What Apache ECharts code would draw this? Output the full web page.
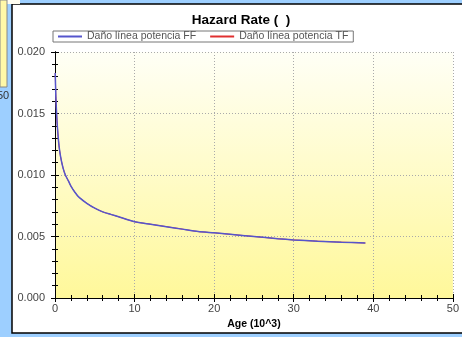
<!DOCTYPE html>
<html><head><meta charset="utf-8">
<script src="https://cdn.jsdelivr.net/npm/echarts@6/dist/echarts.min.js"></script>
<style>html,body{margin:0;padding:0;background:#9dcfff;}#c{width:462px;height:337px;}</style>
</head><body><div id="c"></div>
<script>
const titleText = 'Hazard Rate (  )';
const seriesNames = ['Daño línea potencia FF', 'Daño línea potencia TF'];
const ageX = [0.03, 0.1, 0.2, 0.3, 0.5, 0.7, 1, 1.3, 1.7, 2, 2.5, 3, 4, 5, 6, 7, 8, 10, 12, 14, 16, 18, 20, 22, 25, 28, 30, 33, 36, 39];
const hazardFF = [0.0183, 0.0165, 0.0150, 0.0139, 0.0124, 0.0115, 0.0106, 0.0100, 0.0095, 0.0091, 0.0086, 0.0082, 0.0077, 0.0073, 0.0070, 0.0068, 0.0066, 0.0062, 0.0060, 0.0058, 0.0056, 0.0054, 0.0053, 0.00518, 0.0050, 0.00482, 0.00472, 0.00462, 0.00454, 0.00447];
const hazardTF = [0.0183, 0.0165, 0.0150, 0.0139, 0.0124, 0.0115, 0.0106, 0.0100, 0.0095, 0.0091, 0.0086, 0.0082, 0.0077, 0.0073, 0.0070, 0.0068, 0.0066, 0.0062, 0.0060, 0.0058, 0.0056, 0.0054, 0.0053, 0.00518, 0.0050, 0.00482, 0.00472, 0.00462, 0.00454, 0.00447];
const xName = 'Age (10^3)';

const chart = echarts.init(document.getElementById('c'), null, {renderer: 'canvas'});
const font = 'Arial, "Liberation Sans", sans-serif';
const pairs = (xs, ys) => xs.map((x, i) => [x, ys[i]]);
const baseX = {type: 'value', min: 0, max: 50, interval: 10, gridIndex: 0};
const baseY = {type: 'value', min: 0, max: 0.02, interval: 0.005, gridIndex: 0};
const tickCommon = (inside) => ({
  axisLine: {show: true, lineStyle: {color: '#000', width: 1}},
  axisTick: {show: true, inside: inside, length: 4, lineStyle: {color: '#000'}},
  minorTick: {show: true, splitNumber: 5, length: 3, lineStyle: {color: '#000'}},
});
chart.setOption({
  backgroundColor: '#9dcfff',
  animation: false,
  graphic: [
    {type: 'rect', shape: {x: 0, y: 0, width: 20, height: 4}, style: {fill: '#fffdf0'}, z: 0},
    {type: 'rect', shape: {x: 0, y: 0, width: 7, height: 87}, style: {fill: '#fff8a8', stroke: '#888', lineWidth: 1}, z: 1},
    {type: 'text', left: -3, top: 90, style: {text: '50', font: '11px ' + font, fill: '#333'}, z: 1},
    {type: 'rect', shape: {x: 12, y: 4, width: 470, height: 329}, style: {fill: '#ffffff', stroke: '#000', lineWidth: 1.5}, z: -1}
  ],
  title: {text: titleText, left: 236, textAlign: 'center', top: 8,
    textStyle: {fontFamily: font, fontSize: 13.5, fontWeight: 'bold', color: '#000'}},
  legend: {left: 53, top: 31, padding: [0, 5], itemGap: 14, itemWidth: 24, itemHeight: 2, icon: 'rect',
    borderColor: '#777', borderWidth: 1, backgroundColor: '#fff',
    textStyle: {fontFamily: font, fontSize: 10.5, color: '#555', padding: [1, 0, 0, 0]},
    data: [{name: seriesNames[0]}, {name: seriesNames[1]}]},
  grid: {left: 55, right: 2, top: 52, bottom: 39, show: true, borderWidth: 0,
    backgroundColor: new echarts.graphic.LinearGradient(0, 0, 0, 1, [
      {offset: 0, color: '#fffff6'}, {offset: 1, color: '#fff89a'}])},
  xAxis: [
    Object.assign({}, baseX, tickCommon(false), {position: 'bottom',
      name: xName, nameLocation: 'middle', nameGap: 19,
      nameTextStyle: {fontFamily: font, fontSize: 10.5, fontWeight: 'bold', color: '#000'},
      axisLabel: {fontFamily: font, fontSize: 11, color: '#444', margin: 5},
      splitLine: {show: true, lineStyle: {color: '#aaa', type: [1, 2], width: 1}}}),
    Object.assign({}, baseX, tickCommon(true), {position: 'bottom', axisLabel: {show: false}, splitLine: {show: false}}),
    Object.assign({}, baseX, tickCommon(true), {position: 'top', axisLabel: {show: false}, splitLine: {show: false}})
  ],
  yAxis: [
    Object.assign({}, baseY, tickCommon(false), {position: 'left',
      axisLabel: {fontFamily: font, fontSize: 11, color: '#444', margin: 10,
        formatter: v => v.toFixed(3)},
      splitLine: {show: true, lineStyle: {color: '#aaa', type: [1, 2], width: 1}}}),
    Object.assign({}, baseY, tickCommon(true), {position: 'left', axisLabel: {show: false}, splitLine: {show: false}}),
    Object.assign({}, baseY, tickCommon(true), {position: 'right', axisLabel: {show: false}, splitLine: {show: false}})
  ],
  series: [
    {name: seriesNames[1], type: 'line', data: pairs(ageX, hazardTF), showSymbol: false, smooth: 0.2,
      lineStyle: {color: '#e03030', width: 1}, itemStyle: {color: '#e03030'}, z: 2},
    {name: seriesNames[0], type: 'line', data: pairs(ageX, hazardFF), showSymbol: false, smooth: 0.2,
      lineStyle: {color: '#5555cc', width: 1.5}, itemStyle: {color: '#5555cc'}, z: 3}
  ]
});
</script></body></html>
